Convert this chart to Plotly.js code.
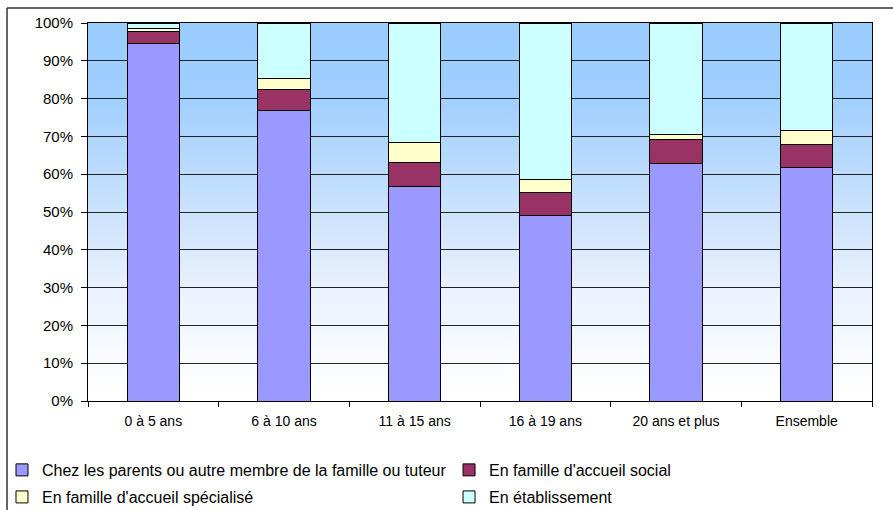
<!DOCTYPE html>
<html>
<head>
<meta charset="utf-8">
<script src="https://cdn.plot.ly/plotly-3.0.1.min.js"></script>
<style>html,body{margin:0;padding:0;background:#fff;}#chart{width:893px;height:510px;}</style>
</head>
<body>
<div id="chart"></div>
<script>
const categories = ['0 à 5 ans', '6 à 10 ans', '11 à 15 ans', '16 à 19 ans', '20 ans et plus', 'Ensemble'];
const chezParents = [94.6, 76.8, 56.7, 49.0, 62.9, 61.8];
const familleSociale = [3.1, 5.6, 6.4, 6.1, 6.4, 6.1];
const familleSpecialisee = [0.8, 2.9, 5.2, 3.5, 1.1, 3.6];
const etablissement = [1.5, 14.7, 31.7, 41.4, 29.6, 28.5];
const seriesNames = [
  'Chez les parents ou autre membre de la famille ou tuteur',
  "En famille d'accueil social",
  "En famille d'accueil spécialisé",
  'En établissement'
];
const seriesColors = ['#9999FF', '#993366', '#FFFFCC', '#CCFFFF'];
const seriesValues = [chezParents, familleSociale, familleSpecialisee, etablissement];
const legendIds = ['legend', 'legend2', 'legend3', 'legend4'];

const FONT = 'Liberation Sans, Arial, sans-serif';

const data = seriesValues.map((vals, i) => ({
  type: 'bar',
  x: categories,
  y: vals,
  name: seriesNames[i],
  legend: legendIds[i],
  marker: {color: seriesColors[i], line: {color: '#000', width: 1}},
  hoverinfo: 'x+y+name'
}));

const grad = '<svg xmlns="http://www.w3.org/2000/svg" width="100" height="100" preserveAspectRatio="none">' +
  '<defs><linearGradient id="g" x1="0" y1="0" x2="0" y2="1">' +
  '<stop offset="0" stop-color="#99CCFF"/>' +
  '<stop offset="0.2" stop-color="#A0CFFF"/>' +
  '<stop offset="0.45" stop-color="#C4DFFD"/>' +
  '<stop offset="0.7" stop-color="#E8F1FD"/>' +
  '<stop offset="0.9" stop-color="#FAFCFF"/>' +
  '<stop offset="1" stop-color="#FFFFFF"/>' +
  '</linearGradient></defs><rect width="100" height="100" fill="url(#g)"/></svg>';

function legendAt(xp, yp) {
  return {
    orientation: 'v', traceorder: 'normal',
    x: xp, xanchor: 'left', y: yp, yanchor: 'middle',
    font: {family: FONT, size: 16, color: '#000'},
    bgcolor: 'rgba(0,0,0,0)', borderwidth: 0
  };
}

const layout = {
  width: 893, height: 510,
  margin: {l: 88, r: 21, t: 23, b: 109, autoexpand: false},
  paper_bgcolor: '#FFFFFF',
  plot_bgcolor: 'rgba(0,0,0,0)',
  barmode: 'stack',
  bargap: 0.6,
  font: {family: FONT, color: '#000'},
  showlegend: true,
  legend: legendAt(-0.1097, -0.1825),
  legend2: legendAt(0.4605, -0.1825),
  legend3: legendAt(-0.1097, -0.254),
  legend4: legendAt(0.4605, -0.254),
  xaxis: {
    type: 'category',
    tickson: 'boundaries',
    ticks: 'outside', ticklen: 5, tickcolor: '#000', tickwidth: 1,
    ticklabelstandoff: 7,
    showline: true, linecolor: '#000', linewidth: 1, mirror: true,
    showgrid: false,
    tickfont: {family: FONT, size: 14, color: '#000'}
  },
  yaxis: {
    range: [0, 100], dtick: 10, ticksuffix: '%',
    ticks: 'outside', ticklen: 6, tickcolor: '#000', tickwidth: 1,
    ticklabelstandoff: 5,
    showline: true, linecolor: '#000', linewidth: 1, mirror: true,
    showgrid: true, gridcolor: '#222', gridwidth: 1,
    zeroline: false,
    tickfont: {family: FONT, size: 15, color: '#000'}
  },
  images: [{
    source: 'data:image/svg+xml;charset=utf-8,' + encodeURIComponent(grad),
    xref: 'paper', yref: 'paper', x: 0, y: 1, sizex: 1, sizey: 1,
    sizing: 'stretch', xanchor: 'left', yanchor: 'top', layer: 'below'
  }],
  shapes: [
    {type: 'line', xref: 'paper', yref: 'paper', x0: -0.1033, x1: 1.04, y0: 1.0397, y1: 1.0397,
     line: {color: '#333', width: 1.5}},
    {type: 'line', xref: 'paper', yref: 'paper', x0: -0.1033, x1: -0.1033, y0: 1.0397, y1: -0.32,
     line: {color: '#333', width: 1.5}}
  ]
};

Plotly.newPlot('chart', data, layout, {displayModeBar: false, staticPlot: true});
</script>
</body>
</html>
